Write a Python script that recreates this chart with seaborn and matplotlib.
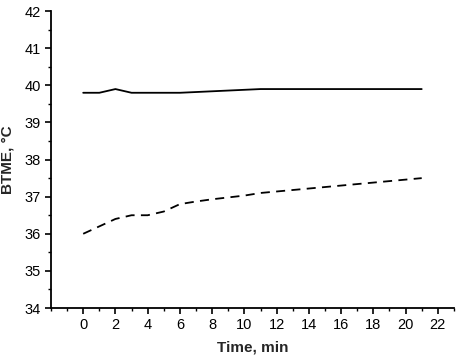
import pandas as pd
import numpy as np
import matplotlib
matplotlib.use('Agg')
import matplotlib.pyplot as plt
import seaborn as sns
from matplotlib.ticker import MultipleLocator

# data
time_min = [0, 1, 2, 3, 4, 5, 6, 7, 8, 9, 10, 11, 12, 13, 14, 15, 16, 17, 18, 19, 20, 21]
btme_solid = [39.8, 39.8, 39.9, 39.8, 39.8, 39.8, 39.8, 39.82, 39.84, 39.86, 39.88, 39.9,
              39.9, 39.9, 39.9, 39.9, 39.9, 39.9, 39.9, 39.9, 39.9, 39.9]
btme_dashed = [36.0, 36.2, 36.4, 36.5, 36.5, 36.6, 36.8, 36.87, 36.93, 36.98, 37.03, 37.1,
               37.14, 37.18, 37.22, 37.26, 37.3, 37.34, 37.38, 37.42, 37.46, 37.5]

df = pd.DataFrame({'time': time_min, 'solid': btme_solid, 'dashed': btme_dashed})

sns.set_style("ticks")
plt.rcParams['font.family'] = ['Liberation Sans', 'DejaVu Sans']

fig = plt.figure(figsize=(4.59, 3.59), dpi=100)
ax = fig.add_axes([0.111, 0.142, 0.878, 0.827])

sns.lineplot(data=df, x='time', y='solid', ax=ax, color='black', lw=1.3)
sns.lineplot(data=df, x='time', y='dashed', ax=ax, color='black', lw=1.3, linestyle=(0, (5, 3.5)))

ax.set_xlim(-2, 23)
ax.set_ylim(34, 42)
ax.xaxis.set_major_locator(MultipleLocator(2))
ax.xaxis.set_minor_locator(MultipleLocator(1))
ax.yaxis.set_major_locator(MultipleLocator(1))
ax.yaxis.set_minor_locator(MultipleLocator(0.5))
ax.set_xticks([0, 2, 4, 6, 8, 10, 12, 14, 16, 18, 20, 22])
ax.tick_params(which='major', length=4, width=1.2, labelsize=10.5, color='black', labelcolor='black')
ax.tick_params(which='minor', length=2.5, width=1.0, color='black')
for s in ['left', 'bottom']:
    ax.spines[s].set_linewidth(1.3)
    ax.spines[s].set_color('black')
sns.despine(ax=ax)

ax.set_xlabel('Time, min', fontsize=11, fontweight='bold', labelpad=6)
ax.set_ylabel('BTME, °C', fontsize=11, fontweight='bold', labelpad=7)

plt.savefig('out.png', dpi=100)
